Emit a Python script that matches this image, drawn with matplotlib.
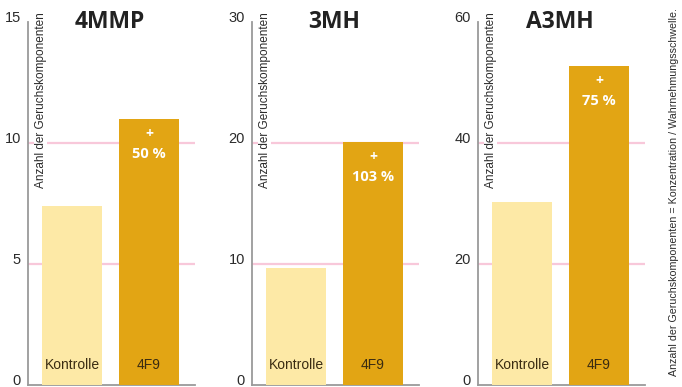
import matplotlib
matplotlib.use("Agg")
import matplotlib.pyplot as plt
import matplotlib.transforms as mtransforms

plt.rcParams['font.family'] = ['Liberation Sans', 'DejaVu Sans']

# data
compounds = ['4MMP', '3MH', 'A3MH']
groups = ['Kontrolle', '4F9']
kontrolle = [7.4, 9.7, 30.2]
behandelt = [11.0, 20.1, 52.8]
increase_pct = [50, 103, 75]
y_max = [15, 30, 60]
y_ticks = [[0, 5, 10, 15], [0, 10, 20, 30], [0, 20, 40, 60]]
grid_levels = [[5, 10], [10, 20], [20, 40]]

ylabel = 'Anzahl der Geruchskomponenten'
note = 'Anzahl der Geruchskomponenten = Konzentration / Wahrnehmungsschwelle.'

col_ctrl = '#fde9a6'
col_4f9 = '#e2a514'
col_grid = '#f8c8da'
col_axis = '#9a9a9a'
col_text = '#2b2b2b'

W, H = 682, 387
fig = plt.figure(figsize=(W / 100, H / 100), dpi=100)
renderer = fig.canvas.get_renderer()


def fit_height(txt, target_px):
    # shrink a rotated text until it is as long as in the picture
    h = txt.get_window_extent(renderer).height
    txt.set_fontsize(txt.get_fontsize() * target_px / h)


lefts = [28, 252, 478]
ax_w = 167
ax_top, ax_bot = 22, 385

for i in range(3):
    ax = fig.add_axes([lefts[i] / W, 1 - ax_bot / H, ax_w / W, (ax_bot - ax_top) / H])
    vals = [kontrolle[i], behandelt[i]]
    ax.bar([0, 1], vals, width=0.79, color=[col_ctrl, col_4f9], zorder=3)
    for g in grid_levels[i]:
        ax.axhline(g, color=col_grid, lw=1.6, zorder=1)

    ax.set_xlim(-0.575, 1.6)
    ax.set_ylim(0, y_max[i])
    ax.set_yticks(y_ticks[i])
    ax.set_yticklabels([str(t) for t in y_ticks[i]], fontsize=10.5, color=col_text)
    for lab in ax.get_yticklabels():
        lab.set_va('baseline')
    ax.tick_params(axis='y', length=0, pad=5)
    ax.set_yticks([y_max[i]], minor=True)
    ax.tick_params(axis='y', which='minor', length=3, width=1.2, color=col_axis)
    ax.set_xticks([])

    for s in ['top', 'right']:
        ax.spines[s].set_visible(False)
    for s in ['left', 'bottom']:
        ax.spines[s].set_color(col_axis)
        ax.spines[s].set_linewidth(1.3)

    ax.text(0.49, 1.0, compounds[i], transform=ax.transAxes, ha='center', va='center',
            fontsize=16.5, fontweight='bold', family=['Open Sans', 'DejaVu Sans'], color='#222222')

    yl = ax.text(0.075, 1.027, ylabel, transform=ax.transAxes, rotation=90, ha='center', va='top',
                 fontsize=9, color=col_text, zorder=5,
                 bbox=dict(facecolor='white', edgecolor='none', pad=0.5))
    fit_height(yl, 176)

    trans = mtransforms.blended_transform_factory(ax.transData, ax.transAxes)
    for j, g in enumerate(groups):
        ax.text(j, 0.055, g, transform=trans, ha='center', va='center',
                fontsize=10, color='#3a2c12', zorder=5)

    ax.annotate('+', (1, behandelt[i]), xytext=(0, -11), textcoords='offset points',
                ha='center', va='center', fontsize=10, fontweight='bold', color='white',
                family=['Open Sans', 'DejaVu Sans'], zorder=5)
    ax.annotate('%d %%' % increase_pct[i], (1, behandelt[i]), xytext=(0, -25.5),
                textcoords='offset points', ha='center', va='center', fontsize=10.5,
                fontweight='bold', color='white', family=['Open Sans', 'DejaVu Sans'], zorder=5)

nt = fig.text(0.995, 0.505, note, rotation=90, ha='right', va='center', fontsize=8, color=col_text)
fit_height(nt, 368)

fig.savefig('out.png', dpi=100)
